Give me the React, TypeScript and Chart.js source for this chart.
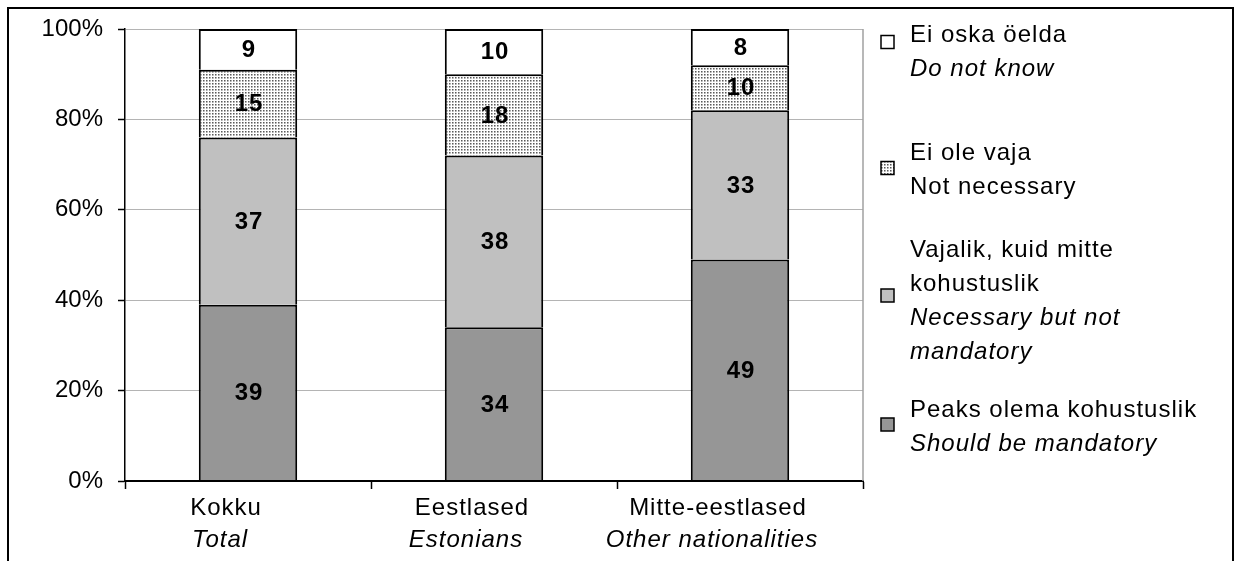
import { useEffect, useRef } from "react";
import { Chart, registerables } from "chart.js";

Chart.register(...registerables);

// ---- data ----
const categoriesEt = ["Kokku", "Eestlased", "Mitte-eestlased"];
const categoriesEn = ["Total", "Estonians", "Other nationalities"];
const shouldBeMandatory = [39, 34, 49];
const necessaryNotMandatory = [37, 38, 33];
const notNecessary = [15, 18, 10];
const doNotKnow = [9, 10, 8];
const yTickValues = [0, 20, 40, 60, 80, 100];

// legend entries, top to bottom: [text, italic]
const legendDoNotKnow: [string, boolean][] = [["Ei oska öelda", false], ["Do not know", true]];
const legendNotNecessary: [string, boolean][] = [["Ei ole vaja", false], ["Not necessary", false]];
const legendNecessary: [string, boolean][] = [
  ["Vajalik, kuid mitte", false],
  ["kohustuslik", false],
  ["Necessary but not", true],
  ["mandatory", true],
];
const legendShould: [string, boolean][] = [["Peaks olema kohustuslik", false], ["Should be mandatory", true]];

const FONT = "'Liberation Sans', Arial, sans-serif";

function makePattern(): CanvasPattern | string {
  const c = document.createElement("canvas");
  c.width = 3;
  c.height = 3;
  const p = c.getContext("2d");
  if (!p) return "#ddd";
  p.fillStyle = "#ffffff";
  p.fillRect(0, 0, 3, 3);
  p.fillStyle = "#5a5a5a";
  p.fillRect(1, 1, 1, 1);
  p.fillStyle = "#a8a8a8";
  p.fillRect(2, 1, 1, 1);
  p.fillRect(1, 2, 1, 1);
  p.fillStyle = "#cfcfcf";
  p.fillRect(2, 2, 1, 1);
  const pat = p.createPattern(c, "repeat");
  return pat || "#ddd";
}

export default function App() {
  const ref = useRef<HTMLCanvasElement | null>(null);

  useEffect(() => {
    document.documentElement.style.overflow = "hidden";
    document.body.style.overflow = "hidden";
    const canvas = ref.current;
    if (!canvas) return;
    const pattern = makePattern();

    const fills = ["#969696", "#c0c0c0", pattern, "#ffffff"];
    const legendEntries = [
      { lines: legendDoNotKnow, fill: fills[3], baseline: 13, marker: 13 },
      { lines: legendNotNecessary, fill: fills[2], baseline: 131, marker: 139 },
      { lines: legendNecessary, fill: fills[1], baseline: 228, marker: 266.5 },
      { lines: legendShould, fill: fills[0], baseline: 388, marker: 395.5 },
    ];

    const customDraw = {
      id: "customDraw",
      afterDatasetsDraw(chart: any) {
        const ctx = chart.ctx as CanvasRenderingContext2D;
        ctx.save();
        ctx.font = `bold 24px ${FONT}`;
        ctx.fillStyle = "#000";
        ctx.textAlign = "center";
        ctx.textBaseline = "middle";
        (ctx as any).letterSpacing = "1px";
        chart.data.datasets.forEach((ds: any, di: number) => {
          const meta = chart.getDatasetMeta(di);
          meta.data.forEach((el: any, i: number) => {
            const { x, y, base } = el.getProps(["x", "y", "base"], true);
            ctx.fillText(String(ds.data[i]), x + 1, (y + base) / 2 + 1);
          });
        });
        ctx.restore();
      },
      afterDraw(chart: any) {
        const ctx = chart.ctx as CanvasRenderingContext2D;
        const area = chart.chartArea;
        const xs = chart.scales.x;
        ctx.save();
        // right plot border
        ctx.strokeStyle = "#a0a0a0";
        ctx.lineWidth = 1.5;
        ctx.beginPath();
        ctx.moveTo(area.right, area.top);
        ctx.lineTo(area.right, area.bottom);
        ctx.stroke();

        // category labels
        ctx.fillStyle = "#000";
        ctx.textAlign = "center";
        ctx.textBaseline = "alphabetic";
        (ctx as any).letterSpacing = "1px";
        categoriesEt.forEach((c, i) => {
          const x = xs.getPixelForValue(i);
          ctx.font = `24px ${FONT}`;
          ctx.fillText(c, x - 22, area.bottom + 34);
          ctx.font = `italic 24px ${FONT}`;
          ctx.fillText(categoriesEn[i], x - 28, area.bottom + 66);
        });

        // legend
        ctx.textAlign = "left";
        const textX = area.right + 47;
        const markerX = area.right + 18;
        const size = 13;
        legendEntries.forEach((e) => {
          const my = area.top + e.marker;
          ctx.fillStyle = e.fill as any;
          ctx.fillRect(markerX, my - size / 2, size, size);
          ctx.strokeStyle = "#000";
          ctx.lineWidth = 1.5;
          ctx.strokeRect(markerX, my - size / 2, size, size);
          ctx.fillStyle = "#000";
          e.lines.forEach(([t, it], li) => {
            ctx.font = `${it ? "italic " : ""}24px ${FONT}`;
            ctx.fillText(t, textX, area.top + e.baseline + li * 34);
          });
        });
        ctx.restore();
      },
    };

    const chart = new Chart(canvas, {
      type: "bar",
      data: {
        labels: categoriesEt,
        datasets: [
          { label: "Peaks olema kohustuslik", data: shouldBeMandatory, backgroundColor: fills[0] as any },
          { label: "Vajalik, kuid mitte kohustuslik", data: necessaryNotMandatory, backgroundColor: fills[1] as any },
          { label: "Ei ole vaja", data: notNecessary, backgroundColor: fills[2] as any },
          { label: "Ei oska öelda", data: doNotKnow, backgroundColor: fills[3] as any },
        ].map((d) => ({
          ...d,
          borderColor: "#000",
          borderWidth: 2,
          borderSkipped: "start" as const,
          categoryPercentage: 1,
          barPercentage: 0.4,
        })),
      },
      options: {
        responsive: false,
        animation: false,
        events: [],
        layout: { padding: { top: 19, right: 369, bottom: 0, left: 0 } },
        plugins: { legend: { display: false }, tooltip: { enabled: false } },
        scales: {
          x: {
            stacked: true,
            offset: true,
            grid: {
              display: true,
              drawOnChartArea: false,
              drawTicks: true,
              tickLength: 8,
              tickColor: "#000",
              tickWidth: 1.5,
              offset: true,
            },
            border: { display: true, color: "#000", width: 2, z: 1 },
            ticks: { display: false },
            afterFit: (s: any) => {
              s.height = 80;
              s.paddingLeft = 0;
              s.paddingRight = 0;
            },
          },
          y: {
            stacked: true,
            min: 0,
            max: 100,
            afterBuildTicks: (s: any) => {
              s.ticks = yTickValues.map((v) => ({ value: v }));
            },
            ticks: {
              callback: (v: any) => `${v}%`,
              font: { size: 24, family: FONT },
              color: "#000",
              padding: 15,
            },
            grid: {
              color: "#b4b4b4",
              lineWidth: 1,
              tickColor: "#000",
              tickLength: 7,
              tickWidth: 1.5,
            },
            border: { display: true, color: "#000", width: 1.5 },
            afterFit: (s: any) => {
              s.width = 115;
              s.paddingTop = 0;
              s.paddingBottom = 0;
            },
          },
        },
      },
      plugins: [customDraw],
    });

    return () => chart.destroy();
  }, []);

  return (
    <>
      <div
        style={{
          position: "fixed",
          left: 7,
          top: 7,
          width: 1227,
          height: 600,
          boxSizing: "border-box",
          border: "2px solid #000",
        }}
      />
      <canvas
        ref={ref}
        width={1222}
        height={551}
        style={{ position: "fixed", left: 10, top: 10, display: "block", width: 1222, height: 551 }}
      />
    </>
  );
}
